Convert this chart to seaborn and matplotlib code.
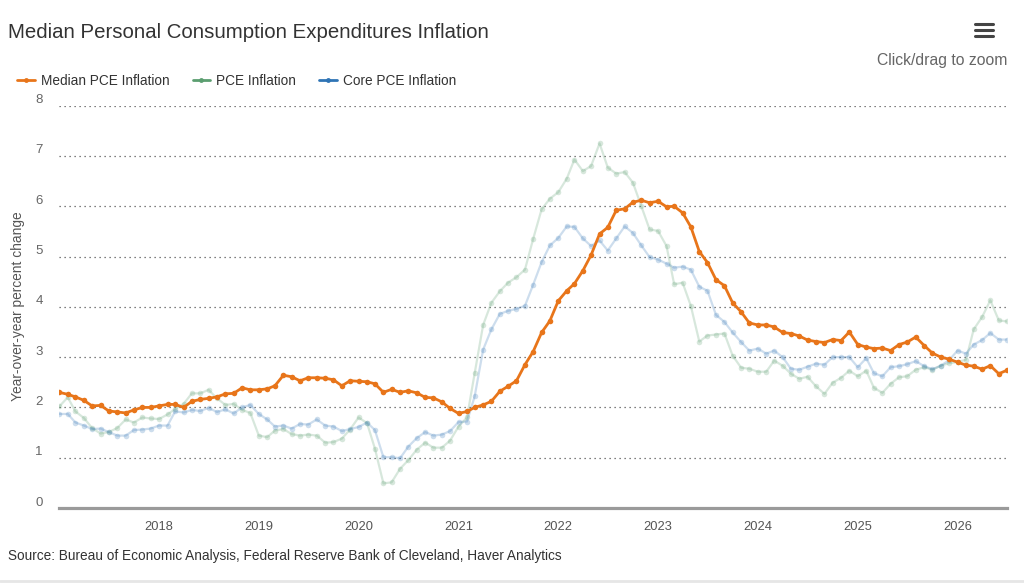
import matplotlib
matplotlib.use("Agg")
import matplotlib.pyplot as plt
from matplotlib.lines import Line2D
from matplotlib.transforms import ScaledTranslation
import matplotlib.dates as mdates
import pandas as pd
import seaborn as sns

months = pd.date_range("2017-01-01", "2026-07-01", freq="MS")

median_pce = [
    2.30, 2.26, 2.21, 2.14, 2.03, 2.04, 1.93, 1.91, 1.89, 1.95, 2.00, 2.00,
    2.03, 2.06, 2.06, 2.00, 2.12, 2.16, 2.18, 2.21, 2.27, 2.28, 2.39, 2.35,
    2.35, 2.37, 2.43, 2.64, 2.61, 2.53, 2.59, 2.59, 2.58, 2.55, 2.43, 2.53,
    2.52, 2.51, 2.47, 2.30, 2.36, 2.30, 2.33, 2.29, 2.20, 2.19, 2.11, 1.98,
    1.88, 1.92, 2.00, 2.05, 2.12, 2.32, 2.42, 2.53, 2.85, 3.11, 3.49, 3.72,
    4.12, 4.32, 4.46, 4.72, 5.03, 5.45, 5.58, 5.92, 5.95, 6.08, 6.12, 6.07,
    6.10, 5.99, 6.00, 5.87, 5.59, 5.10, 4.88, 4.54, 4.42, 4.08, 3.90, 3.68,
    3.64, 3.64, 3.60, 3.49, 3.47, 3.42, 3.34, 3.31, 3.29, 3.35, 3.33, 3.50,
    3.25, 3.20, 3.17, 3.18, 3.13, 3.25, 3.30, 3.40, 3.23, 3.08, 3.00, 2.96,
    2.90, 2.84, 2.82, 2.76, 2.83, 2.67, 2.74,
]

pce = [
    2.02, 2.20, 1.92, 1.79, 1.59, 1.48, 1.51, 1.59, 1.76, 1.70, 1.80, 1.78,
    1.77, 1.86, 1.97, 2.07, 2.28, 2.28, 2.35, 2.18, 2.05, 2.07, 1.95, 1.89,
    1.44, 1.41, 1.54, 1.57, 1.47, 1.44, 1.46, 1.44, 1.30, 1.31, 1.38, 1.56,
    1.80, 1.69, 1.18, 0.49, 0.51, 0.78, 0.95, 1.16, 1.30, 1.20, 1.20, 1.34,
    1.62, 1.80, 2.68, 3.64, 4.08, 4.31, 4.48, 4.59, 4.74, 5.35, 5.94, 6.15,
    6.28, 6.55, 6.93, 6.70, 6.80, 7.25, 6.77, 6.65, 6.68, 6.47, 6.00, 5.54,
    5.51, 5.21, 4.45, 4.48, 4.02, 3.31, 3.43, 3.45, 3.47, 3.03, 2.79, 2.77,
    2.71, 2.71, 2.93, 2.83, 2.67, 2.57, 2.61, 2.42, 2.27, 2.49, 2.59, 2.73,
    2.62, 2.73, 2.39, 2.29, 2.47, 2.60, 2.62, 2.75, 2.80, 2.75, 2.83, 2.88,
    2.90, 2.95, 3.55, 3.80, 4.13, 3.73, 3.71,
]

core_pce = [
    1.87, 1.87, 1.70, 1.64, 1.57, 1.58, 1.51, 1.44, 1.44, 1.55, 1.56, 1.58,
    1.64, 1.64, 1.92, 1.90, 1.95, 1.93, 1.99, 1.91, 1.96, 1.88, 2.00, 2.05,
    1.87, 1.76, 1.62, 1.64, 1.58, 1.67, 1.66, 1.76, 1.64, 1.62, 1.53, 1.57,
    1.61, 1.70, 1.55, 1.01, 1.01, 0.99, 1.22, 1.39, 1.51, 1.44, 1.46, 1.53,
    1.71, 1.72, 2.22, 3.15, 3.55, 3.86, 3.92, 3.96, 4.02, 4.44, 4.89, 5.22,
    5.37, 5.60, 5.59, 5.36, 5.21, 5.32, 5.12, 5.36, 5.60, 5.47, 5.22, 4.99,
    4.94, 4.86, 4.78, 4.80, 4.74, 4.40, 4.32, 3.84, 3.70, 3.49, 3.30, 3.13,
    3.17, 3.07, 3.13, 3.00, 2.77, 2.75, 2.81, 2.87, 2.85, 3.00, 3.00, 3.00,
    2.80, 2.98, 2.68, 2.62, 2.80, 2.82, 2.86, 2.92, 2.82, 2.76, 2.83, 2.94,
    3.13, 3.07, 3.25, 3.34, 3.48, 3.35, 3.35,
]

series_names = ["Median PCE Inflation", "PCE Inflation", "Core PCE Inflation"]
year_ticks = list(range(2018, 2027))
y_ticks = list(range(0, 9))

orange = "#E8751A"
green = "#5B9E70"
blue = "#2F74B5"

df = pd.DataFrame({"date": months,
                   "Median PCE Inflation": median_pce,
                   "PCE Inflation": pce,
                   "Core PCE Inflation": core_pce})
long = df.melt(id_vars="date", var_name="series", value_name="value")

sns.set_theme(style="white")
plt.rcParams["font.family"] = ["Liberation Sans", "DejaVu Sans"]

W, H = 1024, 584
fig = plt.figure(figsize=(W / 100, H / 100), dpi=100)
ax = fig.add_axes([59.3 / W, 1 - 508 / H, (1007 - 59.3) / W, (508 - 105.7) / H])

# faded comparison series first, median on top
styles = {
    "PCE Inflation": dict(color=green, alpha=0.24, lw=1.6, zorder=2),
    "Core PCE Inflation": dict(color=blue, alpha=0.24, lw=1.6, zorder=3),
    "Median PCE Inflation": dict(color=orange, alpha=1.0, lw=2.0, zorder=5),
}
for name in ["PCE Inflation", "Core PCE Inflation", "Median PCE Inflation"]:
    st = styles[name]
    sns.lineplot(data=long[long.series == name], x="date", y="value", ax=ax,
                 color=st["color"], alpha=st["alpha"], linewidth=st["lw"],
                 marker="o", markersize=4, markeredgewidth=0,
                 zorder=st["zorder"], legend=False)

ax.set_xlim(months[0], months[-1])
ax.set_ylim(0, 8)
ax.set_xlabel("")
ax.set_ylabel("")

ax.set_xticks(pd.to_datetime([f"{y}-01-01" for y in year_ticks]))
ax.xaxis.set_major_formatter(mdates.DateFormatter("%Y"))
ax.set_yticks(y_ticks)

ax.grid(axis="y", color="#555555", linestyle=(0, (1, 3)), linewidth=0.9)
ax.grid(axis="x", visible=False)
for s in ["top", "right", "left"]:
    ax.spines[s].set_visible(False)
ax.spines["bottom"].set_color("#9a9a9a")
ax.spines["bottom"].set_linewidth(2.3)
ax.spines["bottom"].set_zorder(6)

ax.tick_params(axis="x", direction="in", length=4, width=1, color="#9a9a9a",
               pad=9, labelsize=9.3, labelcolor="#555555")
ax.tick_params(axis="y", length=0, pad=12, labelsize=9.5, labelcolor="#666666")
for lbl in ax.get_yticklabels():
    lbl.set_transform(lbl.get_transform() + ScaledTranslation(0, 7 / 100, fig.dpi_scale_trans))

fig.text(18.3 / W, 1 - 306 / H, "Year-over-year percent change", rotation=90,
         ha="center", va="center", fontsize=9.9, color="#555555")

fig.text(8 / W, 1 - 32 / H, "Median Personal Consumption Expenditures Inflation",
         ha="left", va="center", fontsize=14.7, color="#333333")
fig.text(1007 / W, 1 - 60 / H, "Click/drag to zoom", ha="right", va="center",
         fontsize=11.3, color="#666666")
for yy in [24, 30, 36]:
    fig.add_artist(Line2D([975 / W, 993 / W], [1 - yy / H, 1 - yy / H],
                          color="#444444", lw=2.2, solid_capstyle="round"))

fig.text(8 / W, 1 - 556 / H,
         "Source: Bureau of Economic Analysis, Federal Reserve Bank of Cleveland, Haver Analytics",
         ha="left", va="center", fontsize=9.85, color="#333333")
fig.add_artist(Line2D([0, 1], [1 - 581 / H, 1 - 581 / H], color="#e6e6e6", lw=2))

handles = [Line2D([0], [0], color=c, lw=2, marker="o", markersize=3.5, markeredgewidth=0)
           for c in [orange, green, blue]]
fig.legend(handles, series_names, loc="center left",
           bbox_to_anchor=(17 / W, 1 - 81 / H), ncol=3, frameon=False,
           fontsize=9.8, labelcolor="#333333", handlelength=1.3,
           handletextpad=0.45, columnspacing=1.7, borderpad=0, borderaxespad=0)

fig.savefig("out.png", dpi=100)
